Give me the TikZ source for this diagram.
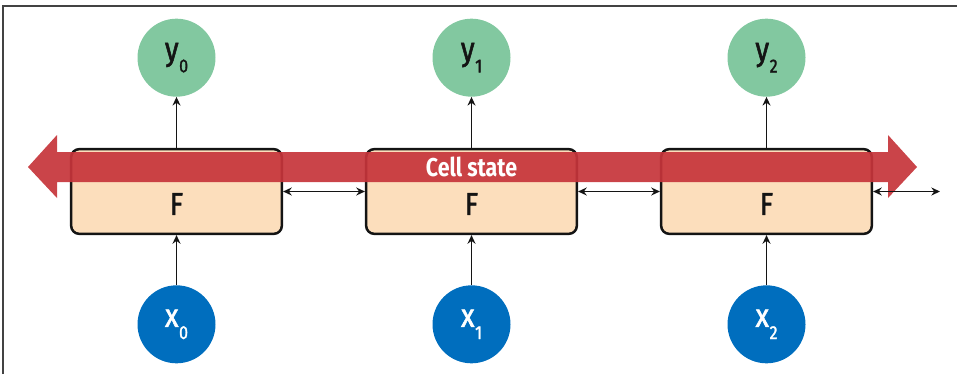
\documentclass[tikz,border=0pt]{standalone}
\usepackage{fontspec}
\setmainfont{Fira Sans}
\newfontfamily\narrow{Fira Sans}[FakeStretch=0.83]
\newfontfamily\narrowmid{Fira Sans}[FakeStretch=0.85,FakeBold=1.6]
\usetikzlibrary{arrows.meta,positioning}
\definecolor{peach}{RGB}{252,222,188}
\definecolor{crimson}{RGB}{198,52,58}
\definecolor{mint}{RGB}{130,200,160}
\definecolor{cobalt}{RGB}{0,110,190}
\definecolor{ink}{RGB}{20,20,20}
\newcommand\idx[1]{\kern0.5pt\raisebox{-0.7ex}{\fontsize{16}{16}\selectfont #1}}
\tikzset{
  >={Stealth[length=2.6mm,width=2.4mm]},
  cell/.style={draw=ink,fill=peach,line width=0.75mm,rounded corners=2.4mm,
    minimum width=63.2mm,minimum height=25.4mm},
  ftext/.style={font=\fontsize{27}{27}\selectfont\narrowmid,text=ink},
  unit/.style={circle,fill=#1,minimum size=23.4mm,inner sep=0pt,
    font=\fontsize{28}{28}\selectfont\narrowmid},
  unit/.default=mint,
  link/.style={<->,line width=0.55mm,draw=ink},
  feed/.style={->,line width=0.55mm,draw=ink},
  band/.style={fill=crimson,opacity=0.92},
  frame/.style={draw=ink!80,line width=0.6mm},
}
\begin{document}
\begin{tikzpicture}[x=0.3mm,y=0.3mm]
  \useasboundingbox (0,0) rectangle (957,374);
  \draw[frame] (3,0) -- (3,368) -- (957,368);
  % cells, inputs and outputs
  \foreach \i in {0,1,2}{
    \node[cell] (f\i) at (\i*295+176.5,182.5) {};
    \node[unit=mint,text=ink,above=15.3mm of f\i] (y\i) {y\idx{\i}};
    \node[unit=cobalt,text=white,below=15mm of f\i] (x\i) {x\idx{\i}};
    \draw[feed] (x\i) -- (f\i);
    \draw[feed] (f\i) -- (y\i);
  }
  % cell state band
  \fill[band] (28,207) -- (57,239) -- (57,222) -- (888,222) -- (888,239)
    -- (917,207) -- (888,176) -- (888,192) -- (57,192) -- (57,176) -- cycle;
  \node[font=\fontsize{22}{22}\selectfont\bfseries\narrow,text=white] (cs) at (471.5,207) {Cell state};
  \foreach \i in {0,1,2}
    \node[ftext] (lf\i) at ([yshift=-3.75mm]f\i.center) {F};
  % hidden state
  \coordinate (out) at (940,182.5);
  \draw[link] (f0) -- (f1);
  \draw[link] (f1) -- (f2);
  \draw[link] (f2) -- (out);
\end{tikzpicture}
\end{document}
